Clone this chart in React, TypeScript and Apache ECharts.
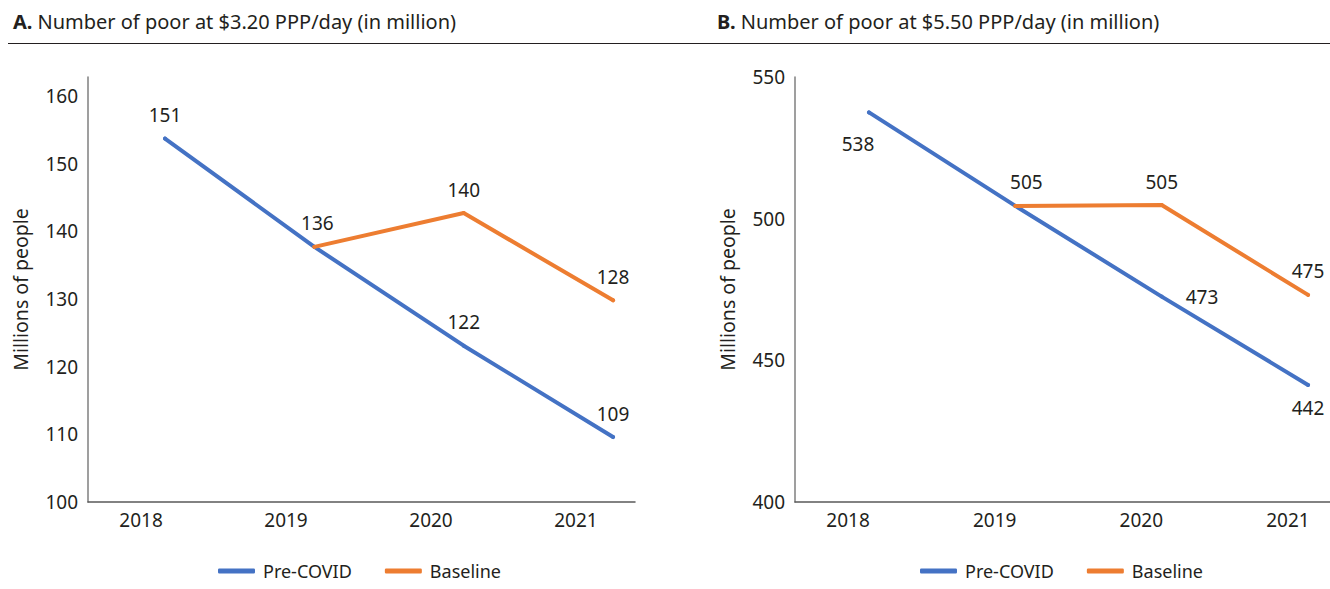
import React, { useEffect, useRef } from "react";
import * as echarts from "echarts";

const years = [2018, 2019, 2020, 2021];
const seriesNames = ["Pre-COVID", "Baseline"];

// Panel A: $3.20 PPP/day
const preCovidA = [153.7, 137.7, 123.1, 109.6];
const baselineA = [null, 137.7, 142.7, 129.8];
const preCovidALabels = ["151", "136", "122", "109"];
const baselineALabels = [null, null, "140", "128"];
const yTicksA = [100, 110, 120, 130, 140, 150, 160];

// Panel B: $5.50 PPP/day
const preCovidB = [537.5, 504.5, 472.5, 441.3];
const baselineB = [null, 504.5, 504.8, 473.1];
const preCovidBLabels = ["538", "505", "473", "442"];
const baselineBLabels = [null, null, "505", "475"];
const yTicksB = [400, 450, 500, 550];

const titleA = "Number of poor at $3.20 PPP/day (in million)";
const titleB = "Number of poor at $5.50 PPP/day (in million)";
const yName = "Millions of people";

const FONT = "'Noto Sans', 'Open Sans', sans-serif";
const TXT = "#231f20";
const BLUE = "#4472C4";
const ORANGE = "#ED7D31";

function toPoints(vals: (number | null)[]) {
  const out: number[][] = [];
  vals.forEach((v, i) => {
    if (v !== null) out.push([years[i], v]);
  });
  return out;
}

function makeSeries(
  name: string,
  vals: (number | null)[],
  labels: (string | null)[],
  color: string,
  xAxisIndex: number,
  yAxisIndex: number,
  placements: Record<number, any>
) {
  const data = toPoints(vals).map((p) => {
    const idx = years.indexOf(p[0]);
    const lab = labels[idx];
    const pl = placements[idx] || { position: "top", distance: 12 };
    return {
      value: p,
      label: lab
        ? {
            show: true,
            formatter: lab,
            ...pl,
          }
        : { show: false },
    };
  });
  return {
    type: "line",
    name,
    xAxisIndex,
    yAxisIndex,
    data,
    symbol: "circle",
    symbolSize: 4,
    showSymbol: true,
    lineStyle: { color, width: 4, cap: "round", join: "round" },
    itemStyle: { color, borderWidth: 0 },
    label: { show: true, fontFamily: FONT, fontSize: 19, color: TXT },
    labelLayout: { hideOverlap: false },
    z: name === "Baseline" ? 3 : 2,
  };
}

export default function App() {
  const ref = useRef<HTMLDivElement>(null);
  useEffect(() => {
    document.body.style.margin = "0";
    const chart = echarts.init(ref.current!, undefined, { renderer: "svg" });

    const labelAxis = (gridIndex: number, min: number, max: number) => ({
      type: "value",
      gridIndex,
      position: "bottom",
      min,
      max,
      axisLine: { show: true, lineStyle: { color: "#595959", width: 1.5 } },
      axisTick: { show: false },
      splitLine: { show: false },
      axisLabel: {
        customValues: years,
        formatter: (v: number) => String(v),
        fontFamily: FONT,
        fontSize: 19,
        color: TXT,
        margin: 8,
      },
    });
    const dataAxis = (gridIndex: number, min: number, max: number) => ({
      type: "value",
      gridIndex,
      position: "bottom",
      min,
      max,
      show: false,
      axisLine: { show: false },
      splitLine: { show: false },
    });
    const yAxis = (gridIndex: number, min: number, max: number, ticks: number[]) => ({
      type: "value",
      gridIndex,
      min,
      max,
      name: yName,
      nameLocation: "middle",
      nameGap: 58,
      nameTextStyle: { fontFamily: FONT, fontSize: 19.5, color: TXT },
      axisLine: { show: true, lineStyle: { color: "#7f7f7f", width: 1.5 } },
      axisTick: { show: false },
      splitLine: { show: false },
      axisLabel: {
        customValues: ticks,
        fontFamily: FONT,
        fontSize: 19,
        color: TXT,
        margin: 10,
      },
    });

    const legend = (left: number) => ({
      left,
      top: 562,
      padding: 0,
      data: seriesNames,
      icon: "roundRect",
      itemWidth: 37,
      itemHeight: 5,
      itemGap: 33,
      textStyle: { fontFamily: FONT, fontSize: 18, color: TXT, padding: [0, 0, 0, 3] },
      selectedMode: false,
    });

    const titleStyle = {
      fontWeight: "normal",
      rich: {
        b: { fontFamily: FONT, fontSize: 20, fontWeight: "bold", color: TXT },
        n: { fontFamily: FONT, fontSize: 20, fontWeight: "normal", color: TXT },
      },
    };

    const option = {
      animation: false,
      title: [
        { left: 8, top: 6, text: "{b|A.} {n|" + titleA + "}", textStyle: titleStyle },
        { left: 712, top: 6, text: "{b|B.} {n|" + titleB + "}", textStyle: titleStyle },
      ],
      graphic: [
        {
          type: "line",
          shape: { x1: 8, y1: 43.5, x2: 1330, y2: 43.5 },
          style: { stroke: "#231f20", lineWidth: 1.2 },
        },
      ],
      legend: [legend(218), legend(920)],
      grid: [
        { left: 88, top: 77, width: 547, height: 425 },
        { left: 795, top: 77, width: 535, height: 425 },
      ],
      xAxis: [
        labelAxis(0, 2018 - 0.3656, 2018 + 3.407),
        dataAxis(0, 2018 - 0.5157, 2018 + 3.147),
        labelAxis(1, 2018 - 0.3615, 2018 + 3.2866),
        dataAxis(1, 2018 - 0.5056, 2018 + 3.15),
      ],
      yAxis: [yAxis(0, 100, 162.8, yTicksA), yAxis(1, 400, 550, yTicksB)],
      series: [
        makeSeries(seriesNames[0], preCovidA, preCovidALabels, BLUE, 1, 0, {
          1: { position: "top", distance: 12, padding: [0, 0, 0, 6] },
        }),
        makeSeries(seriesNames[1], baselineA, baselineALabels, ORANGE, 1, 0, {}),
        makeSeries(seriesNames[0], preCovidB, preCovidBLabels, BLUE, 3, 1, {
          0: { position: "bottom", distance: 20, padding: [0, 22, 0, 0] },
          1: { position: "top", distance: 12, padding: [0, 0, 0, 22] },
          2: { position: "right", distance: 22 },
          3: { position: "bottom", distance: 12 },
        }),
        makeSeries(seriesNames[1], baselineB, baselineBLabels, ORANGE, 3, 1, {}),
      ],
    };
    chart.setOption(option as any);
    return () => chart.dispose();
  }, []);
  return (
    <div
      ref={ref}
      style={{ position: "absolute", left: 0, top: 0, width: 1330, height: 589, background: "#fff" }}
    />
  );
}
